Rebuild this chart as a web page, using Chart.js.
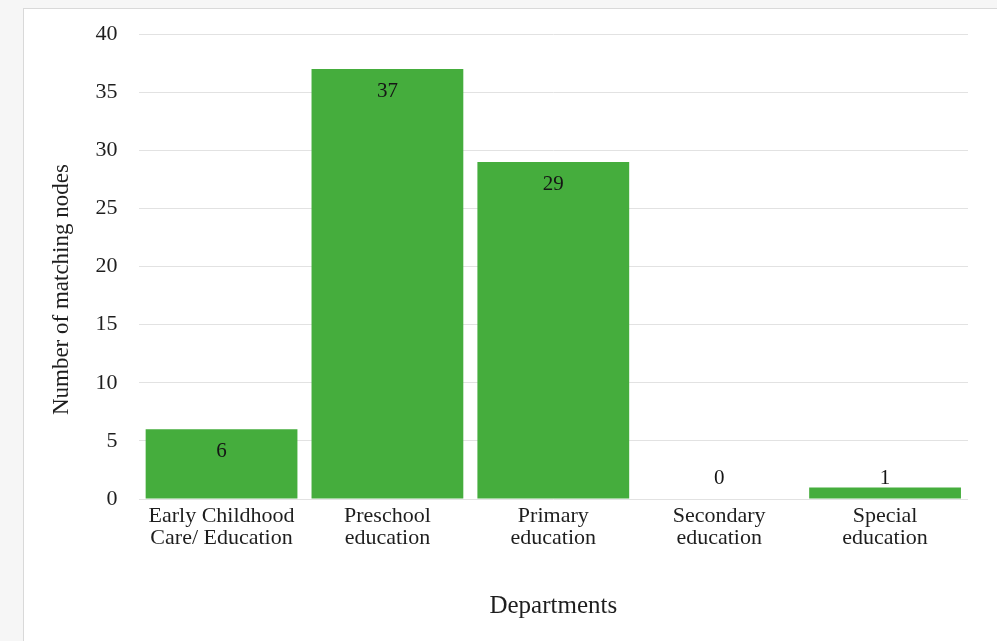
<!DOCTYPE html>
<html>
<head>
<meta charset="utf-8">
<script src="https://cdn.jsdelivr.net/npm/chart.js@4.4.1/dist/chart.umd.min.js"></script>
<style>
  html, body { margin: 0; padding: 0; background: #f6f6f6; }
  #frame {
    position: absolute; left: 23px; top: 8px; right: 0; bottom: 0;
    background: #ffffff; border-top: 1px solid #d9d9d9; border-left: 1px solid #d9d9d9;
  }
  #wrap { position: absolute; left: 0; top: 0; width: 997px; height: 641px; }
</style>
</head>
<body>
<div id="frame"></div>
<div id="wrap"><canvas id="chart" width="997" height="641"></canvas></div>
<script>
const departments = [
  ['Early Childhood', 'Care/ Education'],
  ['Preschool', 'education'],
  ['Primary', 'education'],
  ['Secondary', 'education'],
  ['Special', 'education']
];
const matchingNodes = [6, 37, 29, 0, 1];
const yTicks = [0, 5, 10, 15, 20, 25, 30, 35, 40];

const serif = '"Liberation Serif", "Times New Roman", serif';

// trailing spaces push the rotated title a bit lower, like the original
const yTitle = 'Number of matching nodes' + '\u00a0'.repeat(8);

const barLabels = {
  id: 'barLabels',
  afterDatasetsDraw(chart) {
    const ctx = chart.ctx;
    const meta = chart.getDatasetMeta(0);
    const base = chart.scales.y.getPixelForValue(0);
    ctx.save();
    ctx.font = '21px ' + serif;
    ctx.fillStyle = '#151515';
    ctx.textAlign = 'center';
    ctx.textBaseline = 'middle';
    meta.data.forEach((bar, i) => {
      const y = Math.min(bar.y + 22, base - 21);
      ctx.fillText(String(matchingNodes[i]), bar.x, y);
    });
    ctx.restore();
  }
};

new Chart(document.getElementById('chart'), {
  type: 'bar',
  data: {
    labels: departments,
    datasets: [{
      data: matchingNodes,
      backgroundColor: '#45ad3d',
      borderWidth: 0,
      barPercentage: 0.915,
      categoryPercentage: 1
    }]
  },
  options: {
    responsive: false,
    animation: false,
    layout: { padding: { top: 33, right: 29, left: 48, bottom: 20 } },
    plugins: {
      legend: { display: false },
      tooltip: { enabled: false }
    },
    scales: {
      x: {
        grid: { display: false },
        border: { display: false },
        ticks: {
          color: '#1e1e1e',
          font: { family: serif, size: 22, lineHeight: 1.0 },
          padding: -2,
          maxRotation: 0,
          autoSkip: false
        },
        title: {
          display: true,
          text: 'Departments',
          color: '#1e1e1e',
          font: { family: serif, size: 25, lineHeight: 1.2 },
          padding: { top: 44, bottom: 0 }
        }
      },
      y: {
        min: 0,
        max: 40,
        afterBuildTicks(scale) {
          scale.ticks = yTicks.map(v => ({ value: v }));
        },
        grid: { color: '#e2e2e2', drawTicks: false, lineWidth: 1 },
        border: { display: false },
        ticks: {
          color: '#1e1e1e',
          font: { family: serif, size: 22 },
          padding: 21
        },
        title: {
          display: true,
          text: yTitle,
          color: '#1e1e1e',
          font: { family: serif, size: 23, lineHeight: 1.2 },
          padding: { top: 0, bottom: -1 }
        }
      }
    }
  },
  plugins: [barLabels]
});
</script>
</body>
</html>
